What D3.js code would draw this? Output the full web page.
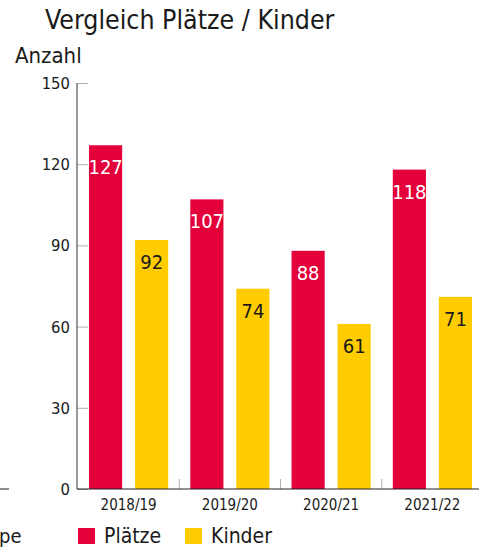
<!DOCTYPE html>
<html lang="de">
<head>
    <meta charset="UTF-8">
    <title>Vergleich Plätze / Kinder</title>
    <script src="https://d3js.org/d3.v7.min.js"></script>
    <style>
        body { margin: 0; background: #fff; }
        svg text { font-family: "DejaVu Sans Condensed", "Liberation Sans Narrow", sans-serif; }
    </style>
</head>
<body>
    <div id="chart-container"></div>

    <script>
        const years = ["2018/19", "2019/20", "2020/21", "2021/22"];
        const seriesNames = ["Plätze", "Kinder"];
        const plaetze = [127, 107, 88, 118];
        const kinder = [92, 74, 61, 71];
        const yTicks = [0, 30, 60, 90, 120, 150];

        const containerWidth = 479;
        const containerHeight = 547;
        const colors = { "Plätze": "#e4003a", "Kinder": "#ffcc00" };

        const svg = d3.select("#chart-container")
            .append("svg")
            .attr("width", containerWidth)
            .attr("height", containerHeight);

        const rows = years.map((y, i) => ({ year: y, values: [
            { key: "Plätze", value: plaetze[i] },
            { key: "Kinder", value: kinder[i] }
        ]}));

        const y = d3.scaleLinear().domain([0, 150]).range([489, 83]);
        const x0 = d3.scaleBand().domain(years).range([78, 483]);
        const x1 = d3.scaleBand().domain(seriesNames)
            .range([0, x0.bandwidth()])
            .paddingInner(0.28)
            .paddingOuter(0.24);

        // title
        svg.append("text")
            .attr("x", 45).attr("y", 29)
            .style("font-size", "26.5px")
            .attr("fill", "#1a1a1a")
            .text("Vergleich Plätze / Kinder");

        svg.append("text")
            .attr("x", 15).attr("y", 63)
            .style("font-size", "22px")
            .attr("fill", "#1a1a1a")
            .text("Anzahl");

        // y axis
        const yAxis = svg.append("g")
            .attr("transform", "translate(77,0)")
            .call(d3.axisRight(y).tickValues(yTicks).tickSize(11).tickFormat(""));
        yAxis.select(".domain").remove();
        yAxis.selectAll(".tick line").attr("stroke", "#b0b0b0");

        svg.append("line")
            .attr("x1", 77).attr("x2", 77)
            .attr("y1", y(150)).attr("y2", y(0))
            .attr("stroke", "#555").attr("stroke-width", 1.2);

        svg.selectAll(".ylab")
            .data(yTicks)
            .join("text")
            .attr("class", "ylab")
            .attr("x", 70)
            .attr("y", d => y(d) + 6)
            .attr("text-anchor", "end")
            .style("font-size", "16.5px")
            .attr("fill", "#1a1a1a")
            .text(d => d);

        // category separators
        svg.selectAll(".sep")
            .data(years.slice(1))
            .join("line")
            .attr("class", "sep")
            .attr("x1", d => x0(d)).attr("x2", d => x0(d))
            .attr("y1", y(0) - 10).attr("y2", y(0))
            .attr("stroke", "#b0b0b0");

        // bars
        const groups = svg.selectAll(".grp")
            .data(rows)
            .join("g")
            .attr("class", "grp")
            .attr("transform", d => `translate(${x0(d.year)},0)`);

        groups.selectAll("rect")
            .data(d => d.values)
            .join("rect")
            .attr("x", d => x1(d.key))
            .attr("y", d => y(d.value))
            .attr("width", x1.bandwidth())
            .attr("height", d => y(0) - y(d.value))
            .attr("fill", d => colors[d.key]);

        groups.selectAll(".val")
            .data(d => d.values)
            .join("text")
            .attr("class", "val")
            .attr("x", d => x1(d.key) + x1.bandwidth() / 2)
            .attr("y", d => y(d.value) + 29)
            .attr("text-anchor", "middle")
            .style("font-size", "20px")
            .attr("fill", d => d.key === "Plätze" ? "#fff" : "#1a1a1a")
            .text(d => d.value);

        // baseline
        svg.append("line")
            .attr("x1", 77).attr("x2", 483)
            .attr("y1", y(0)).attr("y2", y(0))
            .attr("stroke", "#222").attr("stroke-width", 1.2);

        // x labels
        svg.selectAll(".xlab")
            .data(years)
            .join("text")
            .attr("class", "xlab")
            .attr("x", d => x0(d) + x0.bandwidth() / 2)
            .attr("y", 510)
            .attr("text-anchor", "middle")
            .style("font-size", "15px")
            .attr("fill", "#1a1a1a")
            .text(d => d);

        // legend
        const legend = svg.selectAll(".leg")
            .data(seriesNames)
            .join("g")
            .attr("class", "leg")
            .attr("transform", (d, i) => `translate(${i === 0 ? 78 : 185},528)`);
        legend.append("rect")
            .attr("width", 17).attr("height", 16)
            .attr("fill", d => colors[d]);
        legend.append("text")
            .attr("x", 26).attr("y", 15)
            .style("font-size", "21px")
            .attr("fill", "#1a1a1a")
            .text(d => d);

        // bits of the neighbouring chart at the left edge
        svg.append("line")
            .attr("x1", 0).attr("x2", 9)
            .attr("y1", y(0)).attr("y2", y(0))
            .attr("stroke", "#444").attr("stroke-width", 1.2);
        svg.append("text")
            .attr("x", -1).attr("y", 543)
            .style("font-size", "20px")
            .attr("fill", "#1a1a1a")
            .text("pe");
    </script>
</body>
</html>
